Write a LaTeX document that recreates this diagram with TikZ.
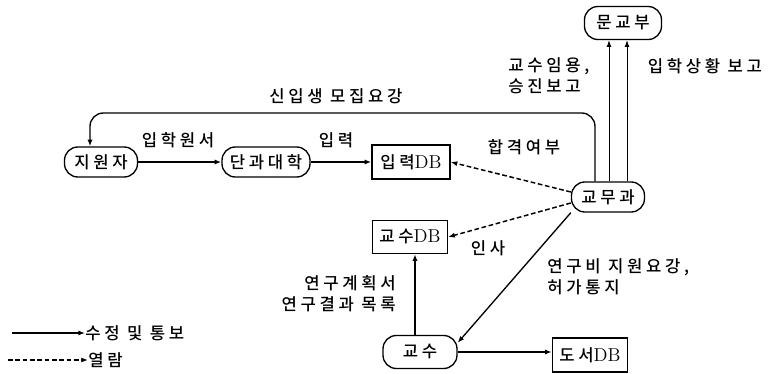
\documentclass[tikz,border=0pt]{standalone}
\usepackage{fontspec}
\newfontfamily\cjk[LetterSpace=22, UprightFont=* Medium]{Noto Sans CJK KR}
\newcommand\dbtxt{{\rmfamily\fontsize{14}{15}\selectfont DB}}
\usetikzlibrary{arrows.meta}
\begin{document}
\begin{tikzpicture}[x=0.75pt,y=-0.75pt,
  every node/.style={inner sep=0pt, font=\cjk\fontsize{12.5}{15.5}\selectfont},
  proc/.style={draw, line width=1pt, rounded corners=10pt, minimum height=22.5pt},
  store/.style={draw, line width=1pt, minimum height=25pt},
  flow/.style={line width=1pt, -{Latex[length=5pt,width=3.8pt]}},
  thin flow/.style={line width=0.7pt, -{Latex[length=5pt,width=3.6pt]}},
  look/.style={flow, line width=1.1pt, dash pattern=on 3.5pt off 2pt}]
\useasboundingbox[fill=white] (0,0) rectangle (769,374);
\coordinate (topline) at (0,113);

% nodes
\node[proc, minimum width=54.75pt] (jw) at (101,162) {지원자};
\node[proc, minimum width=66pt] (dg) at (266,162) {단과대학};
\node[store, minimum width=58.5pt, minimum height=25.5pt] (idb) at (411,162) {입력\dbtxt};
\node[store, minimum width=56.25pt, minimum height=24.75pt] (gdb) at (410,237) {교수\dbtxt};
\node[proc, minimum width=55.5pt, minimum height=24.75pt] (gs) at (420,352) {교수};
\node[store, minimum width=56.25pt, minimum height=25.5pt] (ddb) at (590,355) {도서\dbtxt};
\node[proc, minimum width=54.75pt] (gm) at (608,197) {교무과};
\node[proc, minimum width=57.75pt, minimum height=24.75pt] (mg) at (623,23) {문교부};

% connectors
\draw[flow] (jw) -- (dg);
\draw[flow] (dg) -- (idb);
\draw[look] ([yshift=3.75pt]gm.west) -- (idb.east);
\draw[look] ([yshift=-4.5pt]gm.west) -- (gdb.east);
\draw[flow] (gm.south west) -- ([yshift=-6pt]gs.north east);
\draw[flow] ([xshift=-3.75pt]gs.north) -- ([xshift=-3.75pt]gs.north |- gdb.south);
\draw[flow] (gs.east) -- (gs.east -| ddb.west);
\draw[thin flow] ([xshift=0.75pt]gm.north) -- ([xshift=0.75pt]gm.north |- mg.south);
\draw[thin flow] ([xshift=14.25pt]gm.north) -- ([xshift=14.25pt]gm.north |- mg.south);
\draw[flow, rounded corners=10pt] ([xshift=-9.75pt]gm.north) |- ([xshift=-8.25pt]jw.north |- topline) -- ([xshift=-8.25pt]jw.north);

% labels
\node (l1) at (336,96) {신입생 모집요강};
\node (l2) at (178,140) {입학원서};
\node (l3) at (336,140) {입력};
\node (l4) at (524,147) {합격여부};
\node[anchor=west, align=left] (l5) at (508,76) {교수임용,\\승진보고};
\node (l6) at (705,66) {입학상황 보고};
\node (l7) at (488,248) {인사};
\node[anchor=west, align=left] (l8) at (547,277) {연구비 지원요강,\\허가통지};
\node[anchor=east, align=right] (l9) at (396,294) {연구계획서\\연구결과 목록};

% legend
\coordinate (lg1s) at (12,333);
\node[anchor=west] (lg1) at (85,333) {수정 및 통보};
\draw[flow] (lg1s) -- (lg1.west);
\coordinate (lg2s) at (8,360);
\node[anchor=west] (lg2) at (88,360) {열람};
\draw[look] (lg2s) -- (lg2.west);
\end{tikzpicture}
\end{document}
